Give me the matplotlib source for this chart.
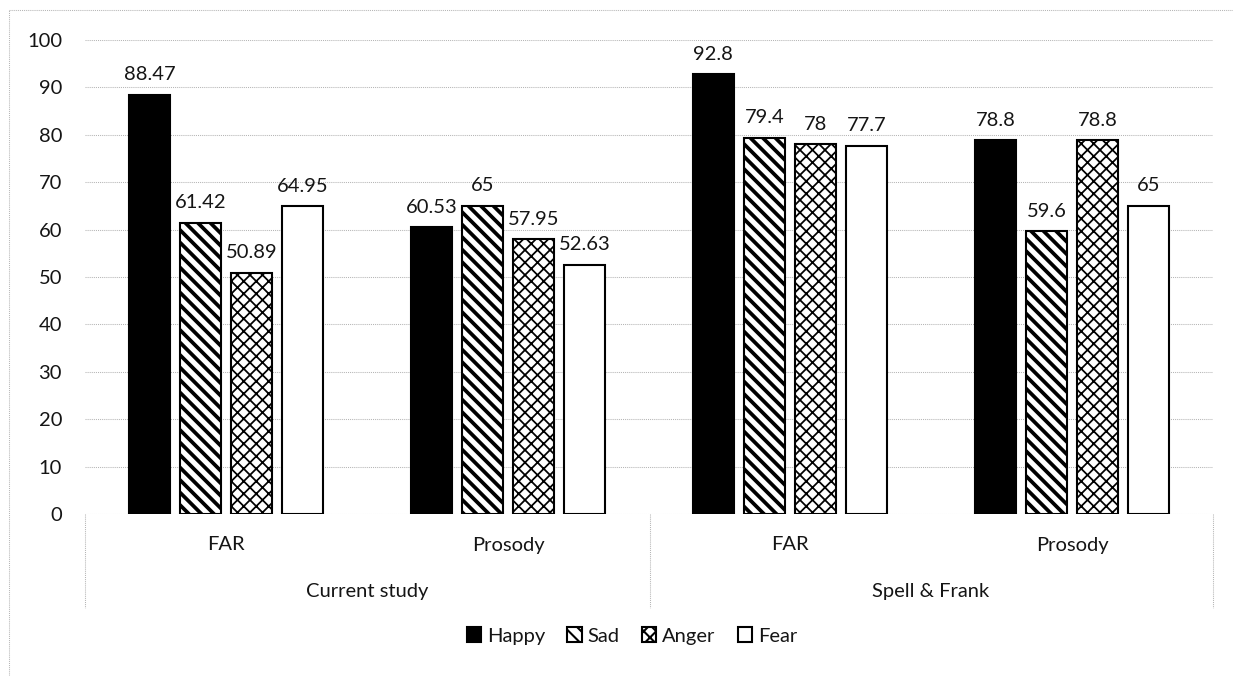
import numpy as np
import matplotlib
matplotlib.use("Agg")
import matplotlib.pyplot as plt
from matplotlib.lines import Line2D

# ---- data ----
groups = ["Current study", "Spell & Frank"]
conditions = ["FAR", "Prosody", "FAR", "Prosody"]
emotions = ["Happy", "Sad", "Anger", "Fear"]
happy = [88.47, 60.53, 92.8, 78.8]
sad = [61.42, 65, 79.4, 59.6]
anger = [50.89, 57.95, 78, 78.8]
fear = [64.95, 52.63, 77.7, 65]
value_labels = [
    ["88.47", "60.53", "92.8", "78.8"],
    ["61.42", "65", "79.4", "59.6"],
    ["50.89", "57.95", "78", "78.8"],
    ["64.95", "52.63", "77.7", "65"],
]
yticks = [0, 10, 20, 30, 40, 50, 60, 70, 80, 90, 100]

series = [happy, sad, anger, fear]
styles = [
    dict(facecolor="black", hatch=None, hlw=0.8),
    dict(facecolor="white", hatch="\\\\\\\\", hlw=1.8),
    dict(facecolor="white", hatch="xxxx", hlw=0.85),
    dict(facecolor="white", hatch=None, hlw=0.8),
]

W, H, DPI = 1233, 676, 150
plt.rcParams["font.family"] = ["Lato", "DejaVu Sans"]
FS = 9.7
TXT = "#151515"
fig = plt.figure(figsize=(W / DPI, H / DPI), dpi=DPI)

ax_l, ax_r, ax_b, ax_t = 85, 1213, 514, 40
ax = fig.add_axes([ax_l / W, 1 - ax_b / H, (ax_r - ax_l) / W, (ax_b - ax_t) / H])
px_per_unit = (ax_b - ax_t) / 100.0

x = np.arange(len(conditions))
step = 0.181
width = 0.146
offsets = (np.arange(len(emotions)) - 1.5) * step

handles = []
for i, (vals, st) in enumerate(zip(series, styles)):
    with plt.rc_context({"hatch.linewidth": st["hlw"], "hatch.color": "black"}):
        bars = ax.bar(x + offsets[i], vals, width, facecolor=st["facecolor"],
                      edgecolor="black", linewidth=1.0, hatch=st["hatch"],
                      label=emotions[i], zorder=3)
    for b in bars:
        if hasattr(b, "set_hatch_linewidth"):
            b.set_hatch_linewidth(st["hlw"])
    handles.append(bars)
    for j, v in enumerate(vals):
        ax.annotate(value_labels[i][j], (x[j] + offsets[i], v),
                    xytext=(0, 7), textcoords="offset points",
                    ha="center", va="baseline", fontsize=FS, color=TXT)

ax.set_xlim(-0.5, len(conditions) - 0.5)
ax.set_ylim(0, 100)
ax.set_yticks(yticks)
ax.tick_params(axis="y", length=0, pad=11, labelsize=FS, labelcolor=TXT)
ax.set_xticks([])
for s in ax.spines.values():
    s.set_visible(False)
ax.yaxis.grid(True, color="#b5b5b5", linestyle=(0, (1, 1)), linewidth=0.5, zorder=0)
ax.set_axisbelow(True)

# category axis below the plot
for j, c in enumerate(conditions):
    ax.text(x[j], -31 / px_per_unit, c, ha="center", va="center", fontsize=FS,
            color=TXT, clip_on=False)
for g, name in enumerate(groups):
    ax.text(2 * g + 0.5, -77 / px_per_unit, name, ha="center", va="center",
            fontsize=FS, color=TXT, clip_on=False)

sep_style = dict(color="#b5b5b5", linestyle=(0, (1, 1)), linewidth=0.5)
for px in (ax_l, 650, ax_r):
    fig.add_artist(Line2D([px / W, px / W], [1 - 514 / H, 1 - 608 / H],
                          transform=fig.transFigure, **sep_style))

# outer chart border (left and top)
fig.add_artist(Line2D([9 / W, 9 / W], [0, 1 - 10 / H], transform=fig.transFigure, **sep_style))
fig.add_artist(Line2D([9 / W, 1], [1 - 10 / H, 1 - 10 / H], transform=fig.transFigure, **sep_style))

fig.legend(handles=handles, labels=emotions, loc="center",
           bbox_to_anchor=(632 / W, 1 - 636 / H), ncol=4, frameon=False,
           fontsize=FS, handlelength=0.7, handleheight=0.7,
           handletextpad=0.3, columnspacing=1.1, labelcolor=TXT)

fig.savefig("out.png", dpi=DPI, facecolor="white")
